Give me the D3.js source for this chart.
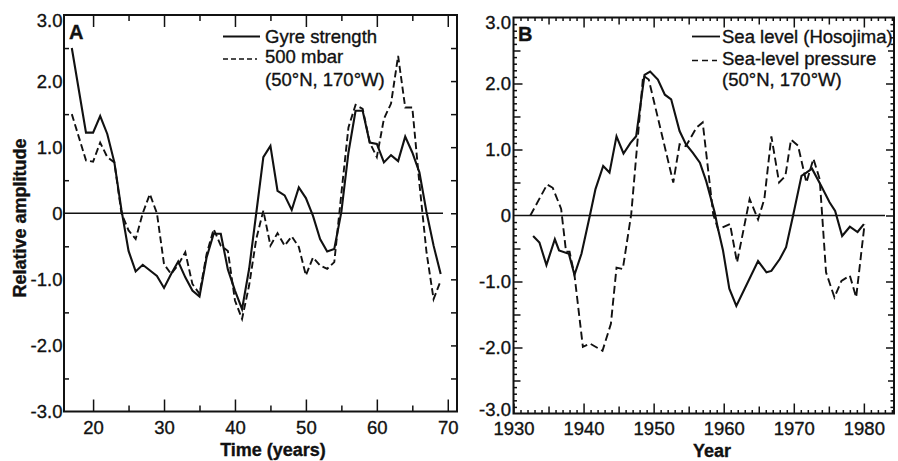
<!DOCTYPE html>
<html>
<head>
<meta charset="utf-8">
<script src="https://cdn.jsdelivr.net/npm/d3@7"></script>
<style>
  body { margin: 0; background: #fff; }
  text { font-family: "Liberation Sans", Arial, sans-serif; fill: #111; stroke: #111; stroke-width: 0.35px; }
</style>
</head>
<body>
<svg width="898" height="461"></svg>
<script>
// Panel A: gyre strength vs 500 mbar (model time in years)
const gyreYears = [17, 19, 20, 21, 22, 23, 24, 25, 26, 27, 29, 30, 31, 32, 33, 34, 35, 36, 37, 38, 39, 40,
  41, 42, 43, 44, 45, 46, 47, 48, 49, 50, 51, 52, 53, 54, 55, 56, 57, 58, 59, 60, 61, 62, 63, 64, 65, 66, 67, 68, 69];
const gyreValues = [2.50, 1.22, 1.22, 1.47, 1.20, 0.77, 0.05, -0.57, -0.88, -0.78, -0.95, -1.13, -0.92, -0.73, -0.97,
  -1.17, -1.26, -0.67, -0.31, -0.31, -0.85, -1.17, -1.45, -0.84, 0.0, 0.85, 1.02, 0.34, 0.27, 0.05, 0.39, 0.23,
  -0.04, -0.39, -0.58, -0.54, 0.02, 0.92, 1.55, 1.55, 1.07, 1.05, 0.77, 0.88, 0.79, 1.16, 0.92, 0.62, 0.02, -0.49, -0.92];

const mbarYears = [17, 19, 20, 21, 22, 23, 24, 25, 26, 27, 28, 29, 30, 31, 32, 33, 34, 35, 36, 37, 38, 39, 40,
  41, 42, 43, 44, 45, 46, 47, 48, 49, 50, 51, 52, 53, 54, 55, 56, 57, 58, 59, 60, 61, 62, 63, 64, 65, 66, 67, 68, 69];
const mbarValues = [1.50, 0.80, 0.78, 1.07, 0.85, 0.77, 0.0, -0.26, -0.39, 0.0, 0.29, 0.0, -0.77, -0.92, -0.78,
  -0.59, -1.07, -1.22, -0.62, -0.24, -0.49, -0.57, -1.32, -1.60, -1.09, -0.39, 0.04, -0.49, -0.30, -0.49, -0.35,
  -0.51, -0.94, -0.67, -0.79, -0.84, -0.74, 0.30, 1.30, 1.64, 1.58, 1.07, 0.85, 1.43, 1.66, 2.38, 1.60, 1.60,
  0.45, -0.59, -1.30, -1.02];

// Panel B: sea level at Hosojima vs sea-level pressure (calendar years, as placed in the figure)
const seaYears = [1932.8, 1933.7, 1934.7, 1935.9, 1936.5, 1937.9, 1938.7, 1939.7, 1940.9, 1941.7, 1942.8, 1943.7,
  1944.7, 1945.7, 1946.7, 1947.5, 1948.7, 1949.5, 1950.6, 1951.6, 1952.5, 1953.7, 1954.6, 1955.6, 1956.6, 1957.5,
  1958.7, 1959.2, 1959.9, 1960.8, 1961.8, 1964.9, 1966.1, 1966.8, 1968.0, 1968.9, 1969.9, 1971.1, 1971.8, 1972.6,
  1973.9, 1975.1, 1975.9, 1976.9, 1978.0, 1979.1, 1980.0];
const seaValues = [-0.31, -0.41, -0.75, -0.36, -0.53, -0.58, -0.90, -0.58, 0.0, 0.40, 0.75, 0.65, 1.20, 0.94, 1.10,
  1.20, 2.13, 2.18, 2.06, 1.83, 1.76, 1.28, 1.08, 0.95, 0.80, 0.52, 0.05, -0.21, -0.53, -1.11, -1.37, -0.69, -0.86,
  -0.84, -0.66, -0.48, 0.0, 0.60, 0.65, 0.71, 0.45, 0.20, 0.07, -0.31, -0.17, -0.25, -0.13];

const slpYears = [1932.4, 1934.8, 1935.6, 1936.8, 1937.5, 1938.0, 1938.7, 1939.9, 1940.9, 1942.7, 1943.9, 1944.7,
  1945.6, 1946.8, 1948.5, 1949.3, 1952.8, 1953.7, 1954.6, 1956.1, 1957.0, 1958.5, 1959.2, 1960.9, 1961.9, 1963.7,
  1964.9, 1965.8, 1966.8, 1967.9, 1968.8, 1969.6, 1970.6, 1971.8, 1972.8, 1973.7, 1974.6, 1975.8, 1976.8, 1978.0,
  1978.9, 1980.1];
const slpValues = [0.0, 0.47, 0.42, 0.10, -0.55, -0.55, -0.90, -1.99, -1.94, -2.05, -1.64, -0.79, -0.81, 0.02, 2.12,
  2.06, 0.50, 1.08, 1.05, 1.33, 1.41, 0.02, -0.21, -0.13, -0.71, 0.25, -0.06, 0.25, 1.20, 0.50, 0.60, 1.15, 1.06,
  0.50, 0.86, 0.55, -0.86, -1.24, -0.99, -0.91, -1.24, -0.13];

// tick values
const aMajorX = [20, 30, 40, 50, 60, 70];
const aMinorX = [25, 35, 45, 55, 65];
const aLabelY = [-3, -2, -1, 0, 1, 2, 3];
const bLabelX = [1930, 1940, 1950, 1960, 1970, 1980];
const legendA = ["Gyre strength", "500 mbar", "(50°N, 170°W)"];
const legendB = ["Sea level (Hosojima)", "Sea-level pressure", "(50°N, 170°W)"];

const ink = "#111";
const svg = d3.select("svg");

const xA = d3.scaleLinear().domain([15.9, 71.3]).range([64, 457]);
const yA = d3.scaleLinear().domain([-3, 3]).range([411.5, 15]);
const xB = d3.scaleLinear().domain([1930, 1984.3]).range([513.5, 894]);
const yB = d3.scaleLinear().domain([-3, 3]).range([413.5, 17.5]);

const fmtY = (v) => (v === 0 ? "0" : v.toFixed(1));

// one set of inward ticks, with labels if given
function ticks(axisFn, scale, values, size, pos, labels, pad) {
  const a = axisFn(scale)
    .tickValues(values)
    .tickSize(-size)
    .tickSizeOuter(0)
    .tickPadding(pad || 0)
    .tickFormat(labels || (() => ""));
  const g = svg.append("g").attr("transform", pos).call(a);
  g.select(".domain").remove();
  g.attr("font-size", 18.5).attr("font-family", null);
  g.selectAll("line").attr("stroke", ink).attr("stroke-width", 1.5);
  g.selectAll("text").attr("fill", ink);
  return g;
}

function frame(x, y) {
  const [x0, x1] = x.range();
  const [y0, y1] = y.range();
  svg.append("rect")
    .attr("x", x0).attr("y", y1)
    .attr("width", x1 - x0).attr("height", y0 - y1)
    .attr("fill", "none").attr("stroke", ink).attr("stroke-width", 2);
}

function series(x, y, xs, vs, dash, w) {
  const pts = xs.map((t, i) => [t, vs[i]]);
  svg.append("path")
    .datum(pts)
    .attr("fill", "none")
    .attr("stroke", ink)
    .attr("stroke-width", w)
    .attr("stroke-dasharray", dash)
    .attr("d", d3.line().x((d) => x(d[0])).y((d) => y(d[1])));
}

function zeroLine(x, y, endGap) {
  svg.append("line")
    .attr("x1", x.range()[0]).attr("x2", x.range()[1] - endGap)
    .attr("y1", y(0)).attr("y2", y(0))
    .attr("stroke", ink).attr("stroke-width", 1.4);
}

function legend(x0, x1, tx, rows, ys, dash) {
  rows.forEach((r, i) => {
    svg.append("text").attr("x", tx).attr("y", ys[i]).attr("font-size", 18.5).text(r);
  });
  svg.append("line").attr("x1", x0).attr("x2", x1).attr("y1", ys[0] - 6.5).attr("y2", ys[0] - 6.5)
    .attr("stroke", ink).attr("stroke-width", 1.8);
  svg.append("line").attr("x1", x0).attr("x2", x1 - 3).attr("y1", ys[1] - 4).attr("y2", ys[1] - 4)
    .attr("stroke", ink).attr("stroke-width", 1.6).attr("stroke-dasharray", dash);
}

// ---------- panel A ----------
const [a0, a1] = xA.range();
const [aBot, aTop] = yA.range();
ticks(d3.axisBottom, xA, aMajorX, 12, `translate(0,${aBot})`, (d) => d, 9);
ticks(d3.axisBottom, xA, aMinorX, 6, `translate(0,${aBot})`);
ticks(d3.axisTop, xA, aMajorX, 12, `translate(0,${aTop})`);
ticks(d3.axisTop, xA, aMinorX, 6, `translate(0,${aTop})`);
const aLeft = ticks(d3.axisLeft, yA, aLabelY, 0, `translate(${a0},0)`, fmtY, 1.5);
aLeft.selectAll("text").filter((d) => d === 3).attr("dy", "0.62em");
ticks(d3.axisLeft, yA, [-2.5, -1.5, -0.5, 0.5, 1.5, 2.5], 5, `translate(${a0},0)`);
ticks(d3.axisRight, yA, d3.range(-2.5, 3, 0.5), 6, `translate(${a1},0)`);
frame(xA, yA);
zeroLine(xA, yA, 14);
series(xA, yA, gyreYears, gyreValues, null, 2.1);
series(xA, yA, mbarYears, mbarValues, "7,3.5", 1.9);

svg.append("text").attr("x", 69).attr("y", 39).attr("font-size", 20).attr("font-weight", "bold").text("A");
legend(223, 260, 265, legendA, [43, 63, 85.5], "5,3");

svg.append("text")
  .attr("transform", "translate(25.5,218) rotate(-90)")
  .attr("text-anchor", "middle").attr("font-size", 18).attr("font-weight", "bold")
  .text("Relative amplitude");
svg.append("text").attr("x", 273).attr("y", 456)
  .attr("text-anchor", "middle").attr("font-size", 18).attr("font-weight", "bold")
  .text("Time (years)");

// ---------- panel B ----------
const [b0, b1] = xB.range();
const [bBot, bTop] = yB.range();
const years = d3.range(1931, 1985);
const fives = years.filter((d) => d % 5 === 0 && d % 10 !== 0);
const ones = years.filter((d) => d % 5 !== 0);
ticks(d3.axisBottom, xB, bLabelX, 10, `translate(0,${bBot})`, (d) => d, 8);
ticks(d3.axisBottom, xB, fives, 7, `translate(0,${bBot})`);
ticks(d3.axisBottom, xB, ones, 3.5, `translate(0,${bBot})`);
ticks(d3.axisTop, xB, bLabelX.slice(1), 10, `translate(0,${bTop})`);
ticks(d3.axisTop, xB, fives, 7, `translate(0,${bTop})`);
ticks(d3.axisTop, xB, ones, 3.5, `translate(0,${bTop})`);

const tenths = d3.range(-29, 30).map((d) => d / 10).filter((d) => Math.round(d * 10) % 5 !== 0);
const halves = [-2.5, -1.5, -0.5, 0.5, 1.5, 2.5];
const bLeft = ticks(d3.axisLeft, yB, aLabelY, 0, `translate(${b0},0)`, fmtY, 2.5);
bLeft.selectAll("text").filter((d) => d === 3).attr("dy", "0.62em");
bLeft.selectAll("text").filter((d) => d === -3).attr("dy", "0.1em");
ticks(d3.axisLeft, yB, [-2, -1, 1, 2], 9, `translate(${b0},0)`);
ticks(d3.axisLeft, yB, halves, 7, `translate(${b0},0)`);
ticks(d3.axisLeft, yB, tenths, 3.5, `translate(${b0},0)`);
ticks(d3.axisRight, yB, [-2, -1, 0, 1, 2], 8, `translate(${b1},0)`);
ticks(d3.axisRight, yB, halves, 6, `translate(${b1},0)`);
ticks(d3.axisRight, yB, tenths, 3.5, `translate(${b1},0)`);
frame(xB, yB);
zeroLine(xB, yB, 9);
series(xB, yB, seaYears, seaValues, null, 2.1);
series(xB, yB, slpYears, slpValues, "8,4", 1.9);

svg.append("text").attr("x", 518).attr("y", 41).attr("font-size", 20).attr("font-weight", "bold").text("B");
legend(692, 720, 722, legendB, [43, 64.5, 85.5], "6,4");

svg.append("text").attr("x", 712).attr("y", 457)
  .attr("text-anchor", "middle").attr("font-size", 18).attr("font-weight", "bold")
  .text("Year");
</script>
</body>
</html>
